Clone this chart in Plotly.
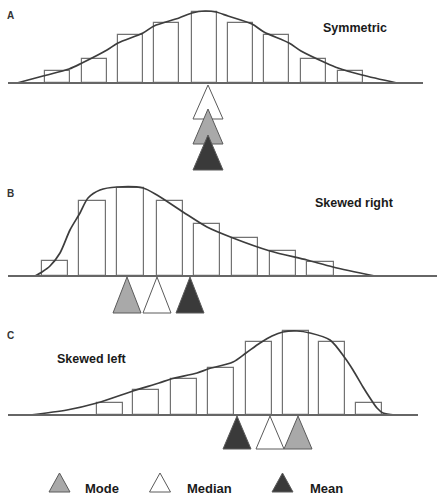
import plotly.graph_objects as go

# ---------------- data ----------------
# Panel A: symmetric
a_bin_centers = [57, 94.5, 130.5, 166.5, 204, 240, 276.5, 313.5, 350]
a_heights = [12, 24, 48, 60, 71, 60, 48, 24, 12]
a_curve_x = [17, 43, 69, 82, 107, 118, 143, 154, 179, 192, 205, 216, 228, 252, 264, 289, 301, 326, 338, 362, 397]
a_curve_y = [0, 7, 14, 20, 33, 40, 50, 57, 65, 70, 72, 71, 67, 59, 51, 40, 32, 20, 15, 8, 0]
a_mode, a_median, a_mean = 208, 208, 208

# Panel B: skewed right
b_bin_centers = [55, 92.5, 130.5, 170, 207, 245, 283, 320.5]
b_heights = [15, 75, 88, 75, 52, 38, 25, 14]
b_curve_x = [35, 42, 50, 60, 70, 80, 88, 100, 117, 143, 157, 183, 207, 233, 270, 307, 333, 375]
b_curve_y = [0, 4, 10, 23, 46, 63, 78, 86, 89, 88, 81, 64, 49, 38, 25, 16, 9, 0]
b_mode, b_median, b_mean = 127, 157, 190

# Panel C: skewed left
c_bin_centers = [109.5, 146, 184, 220.5, 259, 295.5, 332, 369]
c_heights = [12, 25, 36, 47, 73, 84, 73, 12]
c_curve_x = [30, 67, 97, 133, 159, 171, 197, 208, 233, 246, 260, 272, 283, 297, 310, 330, 345, 353, 363, 370, 377, 383, 395, 417]
c_curve_y = [0, 5, 12, 24, 32, 36, 42, 46, 53, 62, 72, 79, 83, 84, 82, 75, 57, 45, 28, 17, 7, 2, 0, 0]
c_mode, c_median, c_mean = 298, 270, 237

legend_labels = ["Mode", "Median", "Mean"]
titles = ["Symmetric", "Skewed right", "Skewed left"]
panel_letters = ["A", "B", "C"]

# ---------------- style ----------------
BAR_LINE = "#727272"
CURVE = "#3d3d3d"
BASE = "#666666"
GRAY = "#a9a9a9"
WHITE = "#ffffff"
DARK = "#3a3a3a"
TRI_LINE = "#5a5a5a"
FONT = "Liberation Sans"

fig = go.Figure()


def add_panel(centers, heights, bar_w, cx, cy, base_x, yax):
    fig.add_trace(go.Bar(x=centers, y=heights, width=bar_w, yaxis=yax,
                         marker=dict(color="white", line=dict(color=BAR_LINE, width=1.2)),
                         hoverinfo="skip", showlegend=False))
    fig.add_trace(go.Scatter(x=cx, y=cy, yaxis=yax, mode="lines",
                             line=dict(color=CURVE, width=1.7, shape="spline", smoothing=0.8),
                             hoverinfo="skip", showlegend=False))
    fig.add_trace(go.Scatter(x=base_x, y=[0, 0], yaxis=yax, mode="lines",
                             line=dict(color=BASE, width=1.8),
                             hoverinfo="skip", showlegend=False))


def add_tri(xc, apex, w, h, color, yax):
    fig.add_trace(go.Scatter(x=[xc - w / 2, xc, xc + w / 2, xc - w / 2],
                             y=[apex - h, apex, apex - h, apex - h],
                             yaxis=yax, mode="lines", fill="toself", fillcolor=color,
                             line=dict(color=TRI_LINE, width=1),
                             hoverinfo="skip", showlegend=False))


# Panel A
add_panel(a_bin_centers, a_heights, 25, a_curve_x, a_curve_y, [8, 423], "y")
add_tri(a_median, -2, 30, 34, WHITE, "y")
add_tri(a_mode, -26, 30, 35, GRAY, "y")
add_tri(a_mean, -52, 30, 35, DARK, "y")

# Panel B
add_panel(b_bin_centers, b_heights, 26.5, b_curve_x, b_curve_y, [8, 437], "y2")
add_tri(b_mode, -1, 28, 36, GRAY, "y2")
add_tri(b_median, -1, 28, 36, WHITE, "y2")
add_tri(b_mean, -1, 28, 36, DARK, "y2")

# Panel C
add_panel(c_bin_centers, c_heights, 26, c_curve_x, c_curve_y, [8, 418], "y3")
add_tri(c_mean, -1, 28, 33, DARK, "y3")
add_tri(c_median, -1, 28, 33, WHITE, "y3")
add_tri(c_mode, -1, 28, 33, GRAY, "y3")

# Legend (drawn on panel C axis)
leg_tri_x = [59.5, 160, 282.5]
leg_colors = [GRAY, WHITE, DARK]
leg_text_x = [83, 185, 308]
for tx, col, lx, lab in zip(leg_tri_x, leg_colors, leg_text_x, legend_labels):
    add_tri(tx, -58, 21, 19, col, "y3")
    fig.add_annotation(x=lx, y=-73, xref="x", yref="y3", text=f"<b>{lab}</b>",
                       showarrow=False, xanchor="left", yanchor="middle",
                       font=dict(family=FONT, size=13, color="#1a1a1a"))

# Labels
fig.add_annotation(x=10, y=83 - 15, xref="x", yref="y", text="<b>A</b>", showarrow=False,
                   xanchor="center", yanchor="middle", font=dict(family=FONT, size=10, color="#333"))
fig.add_annotation(x=10, y=276 - 193, xref="x", yref="y2", text="<b>B</b>", showarrow=False,
                   xanchor="center", yanchor="middle", font=dict(family=FONT, size=10, color="#333"))
fig.add_annotation(x=10, y=415 - 335, xref="x", yref="y3", text="<b>C</b>", showarrow=False,
                   xanchor="center", yanchor="middle", font=dict(family=FONT, size=10, color="#333"))

fig.add_annotation(x=355, y=83 - 28, xref="x", yref="y", text=f"<b>{titles[0]}</b>", showarrow=False,
                   xanchor="center", yanchor="middle", font=dict(family=FONT, size=12.5, color="#1a1a1a"))
fig.add_annotation(x=354, y=276 - 203, xref="x", yref="y2", text=f"<b>{titles[1]}</b>", showarrow=False,
                   xanchor="center", yanchor="middle", font=dict(family=FONT, size=12.5, color="#1a1a1a"))
fig.add_annotation(x=92, y=415 - 359, xref="x", yref="y3", text=f"<b>{titles[2]}</b>", showarrow=False,
                   xanchor="center", yanchor="middle", font=dict(family=FONT, size=12.5, color="#1a1a1a"))

fig.update_layout(
    width=437, height=502,
    margin=dict(l=0, r=0, t=0, b=0),
    paper_bgcolor="white", plot_bgcolor="white",
    barmode="overlay", bargap=0,
    showlegend=False,
    xaxis=dict(range=[0, 437], visible=False, fixedrange=True),
    yaxis=dict(range=[-419, 83], visible=False, fixedrange=True, domain=[0, 1]),
    yaxis2=dict(range=[-226, 276], visible=False, fixedrange=True, overlaying="y"),
    yaxis3=dict(range=[-87, 415], visible=False, fixedrange=True, overlaying="y"),
)

fig.write_html("out.html", config={"displayModeBar": False},
               post_script="document.body.style.margin='0';document.body.style.overflow='hidden';")
